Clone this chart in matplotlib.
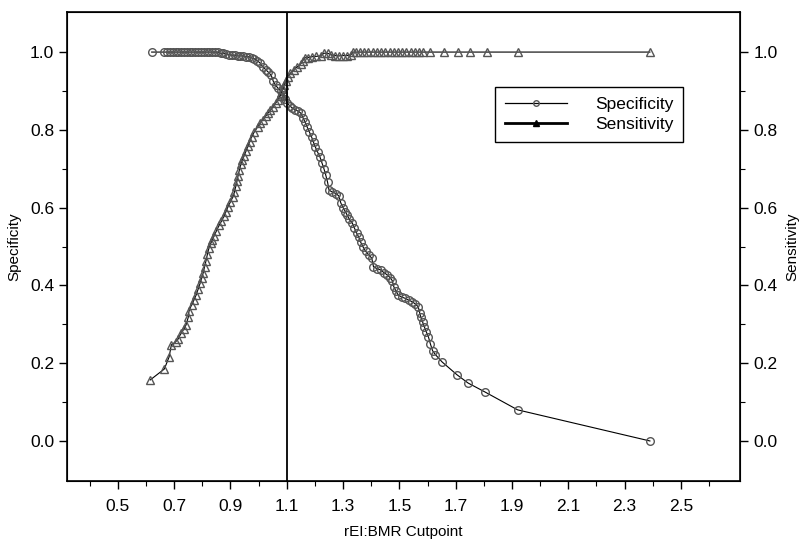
import numpy as np
import matplotlib
matplotlib.use("Agg")
import matplotlib.pyplot as plt
from matplotlib.lines import Line2D

plt.rcParams['font.family'] = ['Liberation Sans', 'DejaVu Sans']

# specificity curve (open circles)
spec_x = [0.620, 0.665, 0.675, 0.685, 0.695, 0.705, 0.715, 0.725, 0.735, 0.745,
          0.755, 0.765, 0.775, 0.785, 0.795, 0.805, 0.815, 0.825, 0.835, 0.845,
          0.855, 0.865, 0.875, 0.885, 0.895, 0.905, 0.915, 0.925, 0.935, 0.945,
          0.955, 0.965, 0.975, 0.985, 0.995, 1.005, 1.015, 1.025, 1.035, 1.045,
          1.052, 1.060, 1.068, 1.078, 1.088, 1.095, 1.100, 1.110, 1.120, 1.130,
          1.140, 1.150, 1.158, 1.165, 1.172, 1.180, 1.188, 1.195, 1.202, 1.210,
          1.218, 1.225, 1.232, 1.238, 1.245, 1.250, 1.262, 1.275, 1.285, 1.292,
          1.300, 1.308, 1.315, 1.322, 1.333, 1.340, 1.348, 1.355, 1.362, 1.370,
          1.380, 1.392, 1.402, 1.408, 1.420, 1.433, 1.445, 1.457, 1.467, 1.475,
          1.480, 1.488, 1.495, 1.508, 1.520, 1.533, 1.546, 1.557, 1.567, 1.572,
          1.576, 1.583, 1.589, 1.596, 1.603, 1.610, 1.618, 1.628, 1.652, 1.705,
          1.744, 1.804, 1.920, 2.390]
spec_y = [1.000, 1.000, 1.000, 1.000, 1.000, 1.000, 1.000, 1.000, 1.000, 1.000,
          1.000, 1.000, 1.000, 1.000, 1.000, 1.000, 1.000, 1.000, 1.000, 1.000,
          1.000, 0.997, 0.997, 0.995, 0.993, 0.992, 0.992, 0.990, 0.990, 0.990,
          0.988, 0.988, 0.985, 0.983, 0.978, 0.972, 0.962, 0.955, 0.948, 0.940,
          0.925, 0.915, 0.908, 0.900, 0.890, 0.880, 0.870, 0.862, 0.856, 0.852,
          0.848, 0.843, 0.830, 0.820, 0.808, 0.795, 0.782, 0.768, 0.755, 0.742,
          0.730, 0.715, 0.700, 0.685, 0.665, 0.645, 0.640, 0.636, 0.630, 0.612,
          0.600, 0.590, 0.580, 0.570, 0.560, 0.548, 0.535, 0.525, 0.512, 0.500,
          0.488, 0.478, 0.470, 0.448, 0.443, 0.440, 0.433, 0.427, 0.420, 0.412,
          0.397, 0.385, 0.376, 0.370, 0.367, 0.362, 0.358, 0.352, 0.345, 0.330,
          0.318, 0.305, 0.293, 0.280, 0.268, 0.250, 0.232, 0.222, 0.203, 0.170,
          0.149, 0.126, 0.080, 0.000]

# sensitivity curve (open triangles)
sens_x = [0.615, 0.665, 0.682, 0.690, 0.705, 0.714, 0.725, 0.735, 0.742, 0.750,
          0.753, 0.762, 0.770, 0.778, 0.785, 0.792, 0.798, 0.803, 0.808, 0.813,
          0.818, 0.824, 0.830, 0.836, 0.842, 0.850, 0.860, 0.868, 0.877, 0.884,
          0.891, 0.900, 0.909, 0.914, 0.919, 0.923, 0.927, 0.932, 0.937, 0.942,
          0.948, 0.955, 0.962, 0.968, 0.975, 0.985, 0.997, 1.006, 1.015, 1.025,
          1.033, 1.042, 1.050, 1.060, 1.068, 1.075, 1.080, 1.086, 1.090, 1.097,
          1.103, 1.112, 1.125, 1.137, 1.150, 1.157, 1.163, 1.175, 1.190, 1.205,
          1.220, 1.232, 1.245, 1.258, 1.270, 1.285, 1.300, 1.315, 1.327, 1.334,
          1.345, 1.360, 1.375, 1.390, 1.405, 1.420, 1.435, 1.450, 1.465, 1.480,
          1.495, 1.510, 1.525, 1.540, 1.555, 1.570, 1.585, 1.610, 1.660, 1.710,
          1.750, 1.810, 1.920, 2.390]
sens_y = [0.157, 0.185, 0.216, 0.247, 0.255, 0.262, 0.278, 0.288, 0.298, 0.318,
          0.335, 0.350, 0.362, 0.375, 0.390, 0.405, 0.420, 0.432, 0.448, 0.463,
          0.480, 0.497, 0.508, 0.518, 0.527, 0.540, 0.555, 0.565, 0.578, 0.590,
          0.602, 0.615, 0.628, 0.640, 0.655, 0.668, 0.682, 0.698, 0.712, 0.722,
          0.732, 0.745, 0.758, 0.770, 0.782, 0.795, 0.808, 0.818, 0.826, 0.835,
          0.843, 0.850, 0.858, 0.868, 0.877, 0.886, 0.895, 0.905, 0.915, 0.926,
          0.936, 0.945, 0.954, 0.962, 0.970, 0.978, 0.985, 0.986, 0.988, 0.989,
          0.990, 0.997, 0.997, 0.993, 0.991, 0.990, 0.991, 0.991, 0.992, 1.000,
          1.000, 1.000, 1.000, 1.000, 1.000, 1.000, 1.000, 1.000, 1.000, 1.000,
          1.000, 1.000, 1.000, 1.000, 1.000, 1.000, 1.000, 1.000, 1.000, 1.000,
          1.000, 1.000, 1.000, 1.000]

cutpoint = 1.1
x_ticks = [0.5, 0.7, 0.9, 1.1, 1.3, 1.5, 1.7, 1.9, 2.1, 2.3, 2.5]
y_ticks = [0.0, 0.2, 0.4, 0.6, 0.8, 1.0]

fig = plt.figure(figsize=(8, 5.46), dpi=100)
ax = fig.add_axes([0.084, 0.119, 0.841, 0.859])

ax.plot(spec_x, spec_y, color='black', lw=0.8, marker='o', ms=5.5,
        mfc='none', mec='#555555', mew=1.0)
ax.plot(sens_x, sens_y, color='black', lw=0.8, marker='^', ms=5.5,
        mfc='none', mec='#555555', mew=1.0)
ax.axvline(cutpoint, color='black', lw=1.3)

ax.set_xlim(0.32, 2.71)
ax.set_ylim(-0.103, 1.103)
ax.set_xticks(x_ticks)
ax.set_xticklabels([f"{v:.1f}" for v in x_ticks])
ax.set_xticks(np.arange(0.4, 2.7, 0.2), minor=True)
ax.set_yticks(y_ticks)
ax.set_yticklabels([f"{v:.1f}" for v in y_ticks])
ax.set_yticks([0.1, 0.3, 0.5, 0.7, 0.9], minor=True)
ax.tick_params(which='major', length=6, width=1, labelsize=12.5, direction='out')
ax.tick_params(axis='x', which='major', pad=7)
ax.tick_params(which='minor', length=3.5, width=0.8, direction='out')
ax.set_xlabel("rEI:BMR Cutpoint", fontsize=11, labelpad=8)
ax.set_ylabel("Specificity", fontsize=11, labelpad=6)
for s in ax.spines.values():
    s.set_linewidth(1.2)

ax2 = ax.twinx()
ax2.set_ylim(ax.get_ylim())
ax2.set_yticks(y_ticks)
ax2.set_yticklabels([f"{v:.1f}" for v in y_ticks])
ax2.set_yticks([0.1, 0.3, 0.5, 0.7, 0.9], minor=True)
ax2.tick_params(which='major', length=6, width=1, labelsize=12.5, direction='out')
ax2.tick_params(which='minor', length=3.5, width=0.8, direction='out')
ax2.set_ylabel("Sensitivity", fontsize=11, labelpad=6)

handles = [
    Line2D([], [], color='black', lw=0.9, marker='o', ms=4, mfc='none', mec='#555555'),
    Line2D([], [], color='black', lw=2.0, marker='^', ms=4, mfc='black', mec='black'),
]
fig.legend(handles, ["Specificity", "Sensitivity"], loc='upper left',
           bbox_to_anchor=(0.619, 0.84), fontsize=12.5, frameon=True,
           fancybox=False, edgecolor='black', handlelength=3.6,
           borderpad=0.55, labelspacing=0.3, handletextpad=1.6,
           borderaxespad=0, framealpha=1)

fig.savefig("out.png", dpi=100)
